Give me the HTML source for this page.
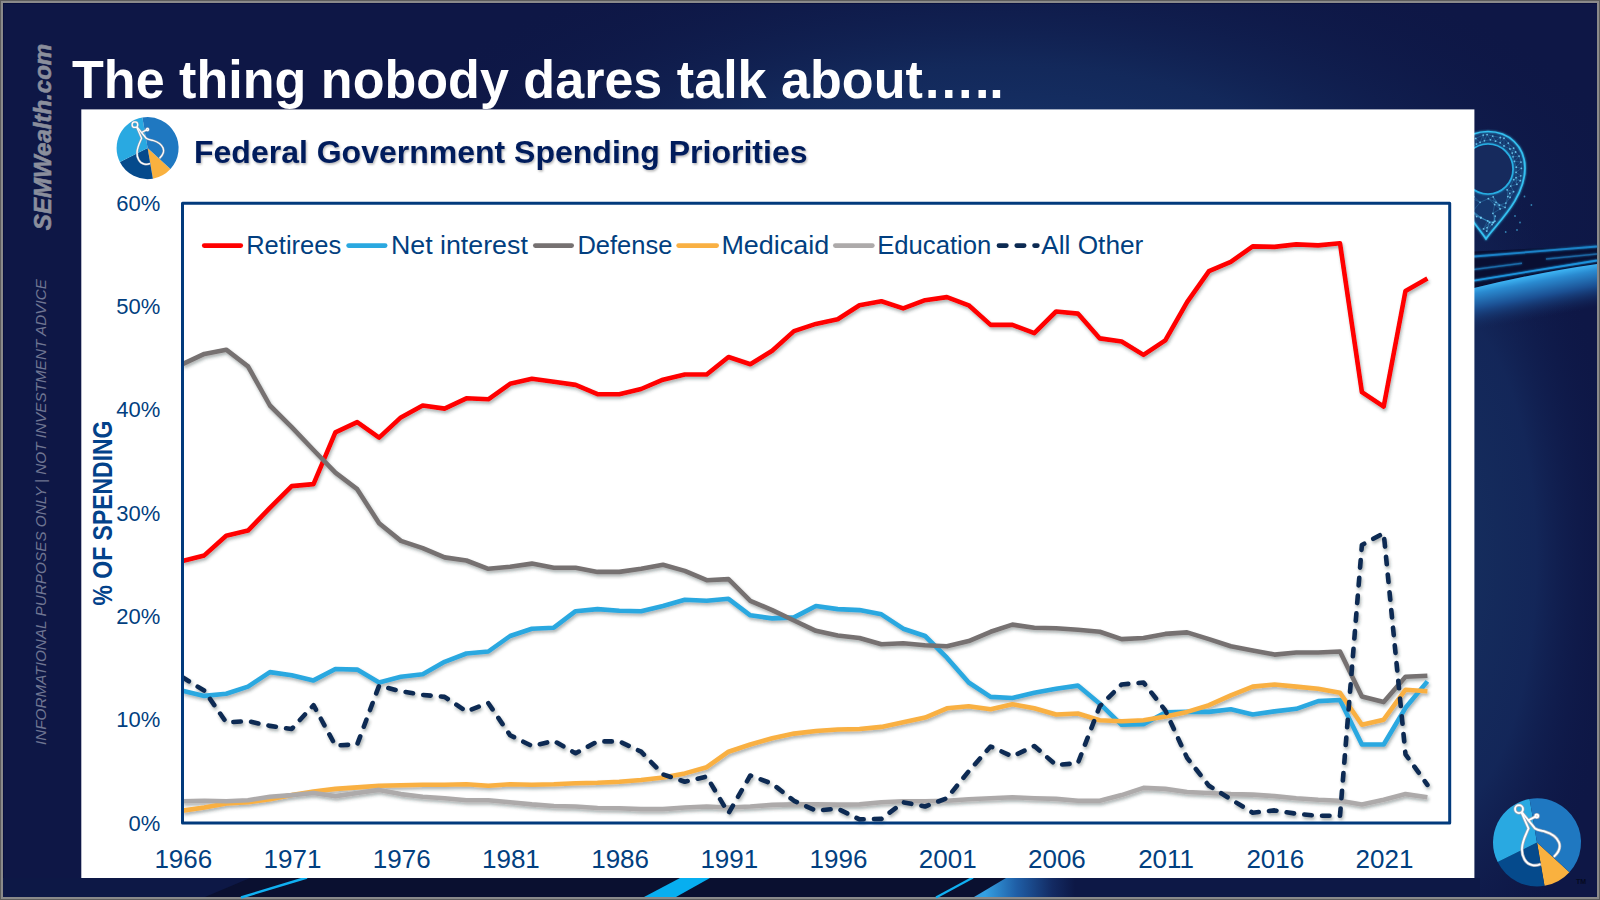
<!DOCTYPE html><html><head><meta charset="utf-8"><title>Federal Government Spending Priorities</title><style>
html,body{margin:0;padding:0;width:1600px;height:900px;overflow:hidden;background:#5d5d5d;}
svg{position:absolute;left:0;top:0;display:block}
</style></head><body>
<svg width="1600" height="900" viewBox="0 0 1600 900" font-family='"Liberation Sans", sans-serif'>
<defs>
<radialGradient id="bgG" gradientUnits="userSpaceOnUse" cx="1250" cy="380" r="460" gradientTransform="translate(1250 380) scale(1 0.92) translate(-1250 -380)">
<stop offset="0" stop-color="#1d4a86"/><stop offset="0.55" stop-color="#163468"/><stop offset="0.85" stop-color="#101d4e"/><stop offset="1" stop-color="#0e1746"/></radialGradient>
<radialGradient id="bgG2" gradientUnits="userSpaceOnUse" cx="1000" cy="200" r="650" gradientTransform="translate(1000 200) scale(1 0.42) translate(-1000 -200)">
<stop offset="0" stop-color="#1a3f78" stop-opacity="0.9"/><stop offset="0.5" stop-color="#163468" stop-opacity="0.6"/><stop offset="1" stop-color="#0e1746" stop-opacity="0"/></radialGradient>
<radialGradient id="rsR" gradientUnits="userSpaceOnUse" cx="1440" cy="560" r="175" gradientTransform="translate(1440 560) scale(1 2.6) translate(-1440 -560)"><stop offset="0" stop-color="#16305f"/><stop offset="0.55" stop-color="#14295c" stop-opacity="0.85"/><stop offset="1" stop-color="#0e1746" stop-opacity="0"/></radialGradient>
<linearGradient id="rsH" gradientUnits="userSpaceOnUse" x1="1474" y1="0" x2="1597" y2="0"><stop offset="0" stop-color="#14295c"/><stop offset="0.6" stop-color="#112050"/><stop offset="1" stop-color="#0e1846"/></linearGradient>
<linearGradient id="rsV" gradientUnits="userSpaceOnUse" x1="0" y1="3" x2="0" y2="897"><stop offset="0" stop-color="#0e1746" stop-opacity="1"/><stop offset="0.26" stop-color="#0e1746" stop-opacity="0"/><stop offset="0.85" stop-color="#0e1746" stop-opacity="0"/><stop offset="1" stop-color="#0e1746" stop-opacity="0.6"/></linearGradient>
<linearGradient id="swG" gradientUnits="userSpaceOnUse" x1="1533" y1="276" x2="1541" y2="318"><stop offset="0" stop-color="#3bb0f0"/><stop offset="0.15" stop-color="#2a8ad0"/><stop offset="0.5" stop-color="#1b4f92"/><stop offset="1" stop-color="#14295c" stop-opacity="0"/></linearGradient>
<linearGradient id="btG" gradientUnits="userSpaceOnUse" x1="985" y1="0" x2="1075" y2="0"><stop offset="0" stop-color="#34a0e2"/><stop offset="0.35" stop-color="#1f5ea6"/><stop offset="0.75" stop-color="#132a62"/><stop offset="1" stop-color="#0d1846"/></linearGradient>
<filter id="sh" x="-5%" y="-5%" width="110%" height="110%"><feDropShadow dx="1.2" dy="2.4" stdDeviation="1.6" flood-color="#203838" flood-opacity="0.38"/></filter>
<filter id="glow" x="-20%" y="-20%" width="140%" height="140%"><feGaussianBlur stdDeviation="0.8" result="b"/><feMerge><feMergeNode in="b"/><feMergeNode in="SourceGraphic"/></feMerge></filter>
<clipPath id="plotclip"><rect x="182.5" y="150" width="1267.5" height="700"/></clipPath>
<filter id="tsh" x="-5%" y="-20%" width="110%" height="140%"><feDropShadow dx="1" dy="1.5" stdDeviation="1" flood-color="#000" flood-opacity="0.3"/></filter>
</defs>
<rect x="1" y="1" width="1598" height="898" fill="#8a8a8a"/>
<rect x="3" y="3" width="1594" height="894" fill="#0e1746"/><rect x="3" y="3" width="1594" height="894" fill="url(#bgG2)"/><rect x="1300" y="3" width="297" height="894" fill="url(#rsR)"/>
<rect x="3" y="3" width="1594" height="1" fill="#050a35" opacity="0.6"/>
<rect x="3" y="3" width="1" height="894" fill="#050a35" opacity="0.6"/>
<rect x="3" y="878" width="1477" height="19" fill="#0a1030"/>
<polygon points="3,878 250,878 205,897 3,897" fill="#0d1846"/>
<line x1="241" y1="897.5" x2="307" y2="877.5" stroke="#10b0f2" stroke-width="2.4"/>
<polygon points="644,897 676,897 710,878 680,878" fill="#07aef0"/>
<line x1="936" y1="897.5" x2="973" y2="877.5" stroke="#10b0f2" stroke-width="2.2"/>
<polygon points="974,897 1100,897 1132,878 1006,878" fill="url(#btG)"/>
<rect x="1099" y="878" width="381" height="19" fill="#0d1846"/>
<path d="M1474,251.5 L1597,245.5 L1597,264 Q1540,272 1474,288 Z" fill="#090f32"/>
<path d="M1474,288 Q1540,272 1597,264 L1597,360 L1474,360 Z" fill="url(#swG)"/>
<g fill="none" filter="url(#glow)">
<path d="M1474,256.5 L1597,246.5" stroke="#1b82c8" stroke-width="1.8"/>
<path d="M1474,269.4 L1522,263.3" stroke="#1a6aa8" stroke-width="1.5"/>
<path d="M1546,259 L1597,254" stroke="#1a64a0" stroke-width="1.5"/>
<path d="M1474,280.6 L1597,260.5" stroke="#1f93dc" stroke-width="1.8"/>
</g>
<path d="M1486.0,239.0 C1478,226 1451,200 1451,168 C1451,146 1467.5,131.5 1488,131.5 C1508.5,131.5 1525,146 1525,168 C1525,200 1494,226 1486.0,239.0 Z" fill="#1e5d9c" fill-opacity="0.42"/><path d="M1467.8,189.3L1463.1,191.9M1467.8,189.3L1464.1,184.4M1467.8,189.3L1473.7,196.6M1467.8,189.3L1459.2,185.0M1464.1,184.4L1462.0,181.1M1464.1,184.4L1459.2,185.0M1464.1,184.4L1457.4,181.7M1462.0,181.1L1460.7,177.1M1462.0,181.1L1457.4,181.7M1462.0,181.1L1459.2,185.0M1460.7,177.1L1457.4,181.7M1460.7,177.1L1458.9,171.2M1460.7,177.1L1454.2,173.9M1458.9,171.2L1455.1,170.4M1458.9,171.2L1460.0,167.5M1458.9,171.2L1454.2,173.9M1460.0,167.5L1455.8,164.8M1460.0,167.5L1459.5,162.4M1460.0,167.5L1455.1,170.4M1459.5,162.4L1455.8,164.8M1459.5,162.4L1457.4,157.3M1459.5,162.4L1463.4,157.0M1463.4,157.0L1457.4,157.3M1463.4,157.0L1464.5,151.0M1463.4,157.0L1459.0,152.4M1464.5,151.0L1467.9,148.4M1464.5,151.0L1461.1,148.1M1464.5,151.0L1459.0,152.4M1467.9,148.4L1471.7,147.1M1467.9,148.4L1465.2,144.0M1467.9,148.4L1461.1,148.1M1471.7,147.1L1476.5,144.1M1471.7,147.1L1470.1,140.9M1471.7,147.1L1465.2,144.0M1476.5,144.1L1480.1,142.3M1476.5,144.1L1475.7,138.4M1476.5,144.1L1470.1,140.9M1480.1,142.3L1484.4,140.8M1480.1,142.3L1475.7,138.4M1480.1,142.3L1483.2,135.1M1484.4,140.8L1483.2,135.1M1484.4,140.8L1490.4,139.8M1484.4,140.8L1487.1,134.6M1490.4,139.8L1492.7,136.1M1490.4,139.8L1495.5,141.2M1490.4,139.8L1487.1,134.6M1495.5,141.2L1500.2,142.8M1495.5,141.2L1492.7,136.1M1495.5,141.2L1500.3,137.5M1500.2,142.8L1504.0,146.0M1500.2,142.8L1500.3,137.5M1500.2,142.8L1504.0,138.2M1504.0,146.0L1508.3,143.1M1504.0,146.0L1509.9,148.9M1504.0,146.0L1504.0,138.2M1509.9,148.9L1513.7,148.1M1509.9,148.9L1512.2,153.1M1509.9,148.9L1508.3,143.1M1509.9,148.9L1515.7,152.0M1512.2,153.1L1515.7,152.0M1512.2,153.1L1513.0,156.8M1512.2,153.1L1513.7,148.1M1513.0,156.8L1514.4,161.4M1513.0,156.8L1515.7,152.0M1513.0,156.8L1519.1,156.1M1514.4,161.4L1516.2,167.2M1514.4,161.4L1521.0,162.1M1514.4,161.4L1519.1,156.1M1516.2,167.2L1516.0,172.3M1516.2,167.2L1521.4,168.3M1516.2,167.2L1521.0,162.1M1516.0,172.3L1516.0,177.7M1516.0,172.3L1520.8,175.8M1516.0,172.3L1521.4,168.3M1516.0,177.7L1513.7,179.6M1516.0,177.7L1520.8,175.8M1516.0,177.7L1520.3,180.7M1513.7,179.6L1516.9,184.3M1513.7,179.6L1520.3,180.7M1513.7,179.6L1510.7,186.1M1510.7,186.1L1507.1,189.8M1510.7,186.1L1513.6,191.7M1510.7,186.1L1516.9,184.3M1507.1,189.8L1509.8,193.4M1507.1,189.8L1513.6,191.7M1507.1,189.8L1507.8,196.6M1463.1,191.9L1464.1,184.4M1463.1,191.9L1459.2,185.0M1463.1,191.9L1464.1,201.0M1459.2,185.0L1457.4,181.7M1454.2,173.9L1455.1,170.4M1454.2,173.9L1457.4,181.7M1455.1,170.4L1455.8,164.8M1455.8,164.8L1458.9,171.2M1457.4,157.3L1459.0,152.4M1457.4,157.3L1455.8,164.8M1459.0,152.4L1461.1,148.1M1461.1,148.1L1465.2,144.0M1465.2,144.0L1470.1,140.9M1465.2,144.0L1464.5,151.0M1470.1,140.9L1475.7,138.4M1475.7,138.4L1483.2,135.1M1483.2,135.1L1487.1,134.6M1487.1,134.6L1492.7,136.1M1492.7,136.1L1500.3,137.5M1500.3,137.5L1504.0,138.2M1504.0,138.2L1508.3,143.1M1508.3,143.1L1513.7,148.1M1513.7,148.1L1515.7,152.0M1515.7,152.0L1519.1,156.1M1519.1,156.1L1521.0,162.1M1521.0,162.1L1521.4,168.3M1521.4,168.3L1520.8,175.8M1520.8,175.8L1520.3,180.7M1520.3,180.7L1516.9,184.3M1516.9,184.3L1516.0,177.7M1513.6,191.7L1509.8,193.4M1513.6,191.7L1510.1,197.4M1509.8,193.4L1507.8,196.6M1509.8,193.4L1510.1,197.4M1493.6,222.5L1493.0,222.4M1493.6,222.5L1494.9,221.2M1493.6,222.5L1492.1,224.5M1493.6,222.5L1489.5,222.4M1505.9,203.1L1505.1,207.4M1505.9,203.1L1507.8,196.6M1505.9,203.1L1499.3,205.2M1505.9,203.1L1510.1,197.4M1487.1,227.7L1486.8,231.2M1487.1,227.7L1483.5,228.9M1487.1,227.7L1489.5,222.4M1487.1,227.7L1492.1,224.5M1472.9,211.1L1472.0,212.0M1472.9,211.1L1476.6,216.5M1472.9,211.1L1481.0,217.4M1472.9,211.1L1480.8,218.0M1510.1,197.4L1507.8,196.6M1494.6,204.6L1496.0,202.3M1494.6,204.6L1499.3,205.2M1494.6,204.6L1500.1,209.0M1494.6,204.6L1493.2,196.8M1499.3,205.2L1500.1,209.0M1499.3,205.2L1496.0,202.3M1499.3,205.2L1505.1,207.4M1481.0,217.4L1480.8,218.0M1481.0,217.4L1476.6,216.5M1481.0,217.4L1487.7,220.8M1481.0,217.4L1489.5,222.4M1496.0,202.3L1493.2,196.8M1496.0,202.3L1500.1,209.0M1472.3,198.5L1473.7,196.6M1472.3,198.5L1464.1,201.0M1472.3,198.5L1480.1,202.3M1472.3,198.5L1467.8,189.3M1495.2,216.1L1492.9,213.3M1495.2,216.1L1494.9,221.2M1495.2,216.1L1493.6,222.5M1495.2,216.1L1493.0,222.4M1480.8,218.0L1476.6,216.5M1480.8,218.0L1487.7,220.8M1480.8,218.0L1489.5,222.4M1483.5,228.9L1486.8,231.2M1483.5,228.9L1489.5,222.4M1483.5,228.9L1487.7,220.8M1473.7,196.6L1480.1,202.3M1473.7,196.6L1464.1,201.0M1472.0,212.0L1476.6,216.5M1472.0,212.0L1481.0,217.4M1472.0,212.0L1480.8,218.0M1480.1,202.3L1488.3,198.7M1480.1,202.3L1472.9,211.1M1500.1,209.0L1505.1,207.4M1486.8,231.2L1492.1,224.5M1486.8,231.2L1489.5,222.4M1487.7,220.8L1489.5,222.4M1487.7,220.8L1493.0,222.4M1487.7,220.8L1492.1,224.5M1487.7,220.8L1493.6,222.5M1464.1,201.0L1467.8,189.3M1494.9,221.2L1493.0,222.4M1494.9,221.2L1492.1,224.5M1493.2,196.8L1488.3,198.7M1493.2,196.8L1499.3,205.2M1492.9,213.3L1494.9,221.2M1492.9,213.3L1500.1,209.0M1492.9,213.3L1494.6,204.6M1505.1,207.4L1496.0,202.3M1488.3,198.7L1496.0,202.3M1488.3,198.7L1494.6,204.6M1493.0,222.4L1492.1,224.5M1493.0,222.4L1489.5,222.4M1489.5,222.4L1492.1,224.5" stroke="#47bff2" stroke-opacity="0.4" stroke-width="0.6" fill="none"/><circle cx="1467.8" cy="189.3" r="0.9" fill="#7fdcff" fill-opacity="0.75"/><circle cx="1464.1" cy="184.4" r="0.9" fill="#7fdcff" fill-opacity="0.75"/><circle cx="1462.0" cy="181.1" r="0.9" fill="#7fdcff" fill-opacity="0.75"/><circle cx="1460.7" cy="177.1" r="0.9" fill="#7fdcff" fill-opacity="0.75"/><circle cx="1458.9" cy="171.2" r="0.9" fill="#7fdcff" fill-opacity="0.75"/><circle cx="1460.0" cy="167.5" r="0.9" fill="#7fdcff" fill-opacity="0.75"/><circle cx="1459.5" cy="162.4" r="0.9" fill="#7fdcff" fill-opacity="0.75"/><circle cx="1463.4" cy="157.0" r="0.9" fill="#7fdcff" fill-opacity="0.75"/><circle cx="1464.5" cy="151.0" r="0.9" fill="#7fdcff" fill-opacity="0.75"/><circle cx="1467.9" cy="148.4" r="0.9" fill="#7fdcff" fill-opacity="0.75"/><circle cx="1471.7" cy="147.1" r="0.9" fill="#7fdcff" fill-opacity="0.75"/><circle cx="1476.5" cy="144.1" r="0.9" fill="#7fdcff" fill-opacity="0.75"/><circle cx="1480.1" cy="142.3" r="0.9" fill="#7fdcff" fill-opacity="0.75"/><circle cx="1484.4" cy="140.8" r="0.9" fill="#7fdcff" fill-opacity="0.75"/><circle cx="1490.4" cy="139.8" r="0.9" fill="#7fdcff" fill-opacity="0.75"/><circle cx="1495.5" cy="141.2" r="0.9" fill="#7fdcff" fill-opacity="0.75"/><circle cx="1500.2" cy="142.8" r="0.9" fill="#7fdcff" fill-opacity="0.75"/><circle cx="1504.0" cy="146.0" r="0.9" fill="#7fdcff" fill-opacity="0.75"/><circle cx="1509.9" cy="148.9" r="0.9" fill="#7fdcff" fill-opacity="0.75"/><circle cx="1512.2" cy="153.1" r="0.9" fill="#7fdcff" fill-opacity="0.75"/><circle cx="1513.0" cy="156.8" r="0.9" fill="#7fdcff" fill-opacity="0.75"/><circle cx="1514.4" cy="161.4" r="0.9" fill="#7fdcff" fill-opacity="0.75"/><circle cx="1516.2" cy="167.2" r="0.9" fill="#7fdcff" fill-opacity="0.75"/><circle cx="1516.0" cy="172.3" r="0.9" fill="#7fdcff" fill-opacity="0.75"/><circle cx="1516.0" cy="177.7" r="0.9" fill="#7fdcff" fill-opacity="0.75"/><circle cx="1513.7" cy="179.6" r="0.9" fill="#7fdcff" fill-opacity="0.75"/><circle cx="1510.7" cy="186.1" r="0.9" fill="#7fdcff" fill-opacity="0.75"/><circle cx="1507.1" cy="189.8" r="0.9" fill="#7fdcff" fill-opacity="0.75"/><circle cx="1463.1" cy="191.9" r="0.9" fill="#7fdcff" fill-opacity="0.75"/><circle cx="1459.2" cy="185.0" r="0.9" fill="#7fdcff" fill-opacity="0.75"/><circle cx="1457.4" cy="181.7" r="0.9" fill="#7fdcff" fill-opacity="0.75"/><circle cx="1454.2" cy="173.9" r="0.9" fill="#7fdcff" fill-opacity="0.75"/><circle cx="1455.1" cy="170.4" r="0.9" fill="#7fdcff" fill-opacity="0.75"/><circle cx="1455.8" cy="164.8" r="0.9" fill="#7fdcff" fill-opacity="0.75"/><circle cx="1457.4" cy="157.3" r="0.9" fill="#7fdcff" fill-opacity="0.75"/><circle cx="1459.0" cy="152.4" r="0.9" fill="#7fdcff" fill-opacity="0.75"/><circle cx="1461.1" cy="148.1" r="0.9" fill="#7fdcff" fill-opacity="0.75"/><circle cx="1465.2" cy="144.0" r="0.9" fill="#7fdcff" fill-opacity="0.75"/><circle cx="1470.1" cy="140.9" r="0.9" fill="#7fdcff" fill-opacity="0.75"/><circle cx="1475.7" cy="138.4" r="0.9" fill="#7fdcff" fill-opacity="0.75"/><circle cx="1483.2" cy="135.1" r="0.9" fill="#7fdcff" fill-opacity="0.75"/><circle cx="1487.1" cy="134.6" r="0.9" fill="#7fdcff" fill-opacity="0.75"/><circle cx="1492.7" cy="136.1" r="0.9" fill="#7fdcff" fill-opacity="0.75"/><circle cx="1500.3" cy="137.5" r="0.9" fill="#7fdcff" fill-opacity="0.75"/><circle cx="1504.0" cy="138.2" r="0.9" fill="#7fdcff" fill-opacity="0.75"/><circle cx="1508.3" cy="143.1" r="0.9" fill="#7fdcff" fill-opacity="0.75"/><circle cx="1513.7" cy="148.1" r="0.9" fill="#7fdcff" fill-opacity="0.75"/><circle cx="1515.7" cy="152.0" r="0.9" fill="#7fdcff" fill-opacity="0.75"/><circle cx="1519.1" cy="156.1" r="0.9" fill="#7fdcff" fill-opacity="0.75"/><circle cx="1521.0" cy="162.1" r="0.9" fill="#7fdcff" fill-opacity="0.75"/><circle cx="1521.4" cy="168.3" r="0.9" fill="#7fdcff" fill-opacity="0.75"/><circle cx="1520.8" cy="175.8" r="0.9" fill="#7fdcff" fill-opacity="0.75"/><circle cx="1520.3" cy="180.7" r="0.9" fill="#7fdcff" fill-opacity="0.75"/><circle cx="1516.9" cy="184.3" r="0.9" fill="#7fdcff" fill-opacity="0.75"/><circle cx="1513.6" cy="191.7" r="0.9" fill="#7fdcff" fill-opacity="0.75"/><circle cx="1509.8" cy="193.4" r="0.9" fill="#7fdcff" fill-opacity="0.75"/><circle cx="1493.6" cy="222.5" r="0.9" fill="#7fdcff" fill-opacity="0.75"/><circle cx="1505.9" cy="203.1" r="0.9" fill="#7fdcff" fill-opacity="0.75"/><circle cx="1487.1" cy="227.7" r="0.9" fill="#7fdcff" fill-opacity="0.75"/><circle cx="1472.9" cy="211.1" r="0.9" fill="#7fdcff" fill-opacity="0.75"/><circle cx="1510.1" cy="197.4" r="0.9" fill="#7fdcff" fill-opacity="0.75"/><circle cx="1494.6" cy="204.6" r="0.9" fill="#7fdcff" fill-opacity="0.75"/><circle cx="1499.3" cy="205.2" r="0.9" fill="#7fdcff" fill-opacity="0.75"/><circle cx="1481.0" cy="217.4" r="0.9" fill="#7fdcff" fill-opacity="0.75"/><circle cx="1496.0" cy="202.3" r="0.9" fill="#7fdcff" fill-opacity="0.75"/><circle cx="1472.3" cy="198.5" r="0.9" fill="#7fdcff" fill-opacity="0.75"/><circle cx="1495.2" cy="216.1" r="0.9" fill="#7fdcff" fill-opacity="0.75"/><circle cx="1480.8" cy="218.0" r="0.9" fill="#7fdcff" fill-opacity="0.75"/><circle cx="1483.5" cy="228.9" r="0.9" fill="#7fdcff" fill-opacity="0.75"/><circle cx="1473.7" cy="196.6" r="0.9" fill="#7fdcff" fill-opacity="0.75"/><circle cx="1472.0" cy="212.0" r="0.9" fill="#7fdcff" fill-opacity="0.75"/><circle cx="1480.1" cy="202.3" r="0.9" fill="#7fdcff" fill-opacity="0.75"/><circle cx="1476.6" cy="216.5" r="0.9" fill="#7fdcff" fill-opacity="0.75"/><circle cx="1500.1" cy="209.0" r="0.9" fill="#7fdcff" fill-opacity="0.75"/><circle cx="1486.8" cy="231.2" r="0.9" fill="#7fdcff" fill-opacity="0.75"/><circle cx="1487.7" cy="220.8" r="0.9" fill="#7fdcff" fill-opacity="0.75"/><circle cx="1464.1" cy="201.0" r="0.9" fill="#7fdcff" fill-opacity="0.75"/><circle cx="1507.8" cy="196.6" r="0.9" fill="#7fdcff" fill-opacity="0.75"/><circle cx="1494.9" cy="221.2" r="0.9" fill="#7fdcff" fill-opacity="0.75"/><circle cx="1493.2" cy="196.8" r="0.9" fill="#7fdcff" fill-opacity="0.75"/><circle cx="1492.9" cy="213.3" r="0.9" fill="#7fdcff" fill-opacity="0.75"/><circle cx="1505.1" cy="207.4" r="0.9" fill="#7fdcff" fill-opacity="0.75"/><circle cx="1488.3" cy="198.7" r="0.9" fill="#7fdcff" fill-opacity="0.75"/><circle cx="1493.0" cy="222.4" r="0.9" fill="#7fdcff" fill-opacity="0.75"/><circle cx="1489.5" cy="222.4" r="0.9" fill="#7fdcff" fill-opacity="0.75"/><circle cx="1492.1" cy="224.5" r="0.9" fill="#7fdcff" fill-opacity="0.75"/><path d="M1486.0,239.0 C1478,226 1451,200 1451,168 C1451,146 1467.5,131.5 1488,131.5 C1508.5,131.5 1525,146 1525,168 C1525,200 1494,226 1486.0,239.0 Z" fill="none" stroke="#36cafa" stroke-width="1.7" stroke-opacity="0.9" filter="url(#glow)"/><circle cx="1488.0" cy="169.0" r="25.0" fill="#132b5d" stroke="#2cbdf3" stroke-width="1.7" stroke-opacity="0.85" filter="url(#glow)"/><circle cx="1524.5" cy="196.5" r="0.9" fill="#4cc6f5" fill-opacity="0.6"/><circle cx="1531.4" cy="205" r="0.9" fill="#4cc6f5" fill-opacity="0.6"/><circle cx="1515" cy="216" r="0.9" fill="#4cc6f5" fill-opacity="0.6"/><circle cx="1520" cy="222.5" r="0.9" fill="#4cc6f5" fill-opacity="0.6"/><circle cx="1517" cy="230" r="0.9" fill="#4cc6f5" fill-opacity="0.6"/><circle cx="1505.7" cy="232" r="0.9" fill="#4cc6f5" fill-opacity="0.6"/>
<text transform="translate(72,97.8) scale(0.972,1)" font-size="53.6" font-weight="bold" fill="#ffffff">The thing nobody dares talk about…..</text>
<text transform="translate(50.5,137) rotate(-90)" text-anchor="middle" font-size="24" font-weight="bold" font-style="italic" fill="#8a8e9c" stroke="#8a8e9c" stroke-width="0.6">SEMWealth.com</text>
<text transform="translate(46,512) rotate(-90)" text-anchor="middle" font-size="15.3" font-style="italic" fill="#6e7592">INFORMATIONAL PURPOSES ONLY | NOT INVESTMENT ADVICE</text>
<rect x="81.3" y="109.4" width="1393.1" height="768.6" fill="#ffffff"/>
<path d="M147.60,148.10 L170.46,169.04 A31,31 0 0 1 152.88,178.65 Z" fill="#f9b13f"/><path d="M147.60,148.10 L152.88,178.65 A31,31 0 0 1 119.88,161.98 Z" fill="#054a8c"/><path d="M147.60,148.10 L119.88,161.98 A31,31 0 0 1 142.38,117.54 Z" fill="#29a9e1"/><path d="M147.60,148.10 L142.38,117.54 A31,31 0 0 1 170.46,169.04 Z" fill="#1f78c1"/><g transform="translate(147.60,148.10) scale(0.7045)" fill="none" stroke-linecap="round" stroke-linejoin="round"><g stroke="#9aa4b4" stroke-width="3.2"><circle cx="-18" cy="-33.3" r="4"/><path d="M-15.2,-29.2 L-8.5,-14 C-10.5,-9 -14.6,-2 -15,6 C-15.4,14 -11.5,21.5 -4.5,22.8 C-1.5,23.3 1,22.8 2.7,22.1"/><path d="M-14.6,-29.5 L-2,-14 C1,-12 4,-11.8 8,-10.8 C14,-9 20,-5 22,0 C23.5,4 22.5,9 17.5,13.8"/><path d="M-8.5,-22.2 L-1.5,-25.8"/><circle cx="-0.2" cy="-26.4" r="1.5"/></g><g stroke="#ffffff" stroke-width="1.8"><circle cx="-18" cy="-33.3" r="4"/><path d="M-15.2,-29.2 L-8.5,-14 C-10.5,-9 -14.6,-2 -15,6 C-15.4,14 -11.5,21.5 -4.5,22.8 C-1.5,23.3 1,22.8 2.7,22.1"/><path d="M-14.6,-29.5 L-2,-14 C1,-12 4,-11.8 8,-10.8 C14,-9 20,-5 22,0 C23.5,4 22.5,9 17.5,13.8"/><path d="M-8.5,-22.2 L-1.5,-25.8"/><circle cx="-0.2" cy="-26.4" r="1.5"/></g></g>
<text x="194" y="163" font-size="32" font-weight="bold" fill="#021d5c" filter="url(#tsh)">Federal Government Spending Priorities</text>
<text transform="translate(111.5,513) rotate(-90) scale(0.85,1)" text-anchor="middle" font-size="27" font-weight="bold" fill="#03428a">% OF SPENDING</text>
<text x="160.3" y="830.6" text-anchor="end" font-size="22" fill="#023f80">0%</text>
<text x="160.3" y="727.3" text-anchor="end" font-size="22" fill="#023f80">10%</text>
<text x="160.3" y="623.9" text-anchor="end" font-size="22" fill="#023f80">20%</text>
<text x="160.3" y="520.6" text-anchor="end" font-size="22" fill="#023f80">30%</text>
<text x="160.3" y="417.3" text-anchor="end" font-size="22" fill="#023f80">40%</text>
<text x="160.3" y="314.0" text-anchor="end" font-size="22" fill="#023f80">50%</text>
<text x="160.3" y="210.6" text-anchor="end" font-size="22" fill="#023f80">60%</text>
<text x="183.3" y="868.4" text-anchor="middle" font-size="26" fill="#023f80">1966</text>
<text x="292.5" y="868.4" text-anchor="middle" font-size="26" fill="#023f80">1971</text>
<text x="401.7" y="868.4" text-anchor="middle" font-size="26" fill="#023f80">1976</text>
<text x="510.9" y="868.4" text-anchor="middle" font-size="26" fill="#023f80">1981</text>
<text x="620.1" y="868.4" text-anchor="middle" font-size="26" fill="#023f80">1986</text>
<text x="729.3" y="868.4" text-anchor="middle" font-size="26" fill="#023f80">1991</text>
<text x="838.5" y="868.4" text-anchor="middle" font-size="26" fill="#023f80">1996</text>
<text x="947.7" y="868.4" text-anchor="middle" font-size="26" fill="#023f80">2001</text>
<text x="1056.9" y="868.4" text-anchor="middle" font-size="26" fill="#023f80">2006</text>
<text x="1166.1" y="868.4" text-anchor="middle" font-size="26" fill="#023f80">2011</text>
<text x="1275.3" y="868.4" text-anchor="middle" font-size="26" fill="#023f80">2016</text>
<text x="1384.5" y="868.4" text-anchor="middle" font-size="26" fill="#023f80">2021</text>
<g clip-path="url(#plotclip)"><g fill="none" stroke-width="4.6" stroke-linejoin="round" stroke-linecap="butt" filter="url(#sh)">
<polyline points="182.5,561.1 204.3,555.4 226.2,535.7 248.0,530.6 269.9,507.8 291.7,486.1 313.5,484.1 335.4,432.4 357.2,422.1 379.1,437.6 400.9,417.4 422.7,405.5 444.6,408.6 466.4,398.3 488.3,399.3 510.1,383.8 531.9,378.7 553.8,381.8 575.6,384.9 597.5,394.2 619.3,394.2 641.1,389.0 663.0,379.7 684.8,374.5 706.7,374.5 728.5,357.0 750.3,364.2 772.2,350.8 794.0,331.1 815.9,323.9 837.7,319.3 859.5,305.3 881.4,301.2 903.2,308.4 925.1,300.2 946.9,297.1 968.7,305.3 990.6,324.9 1012.4,324.9 1034.3,333.2 1056.1,311.5 1077.9,313.6 1099.8,338.4 1121.6,341.5 1143.5,354.9 1165.3,340.4 1187.1,302.2 1209.0,271.2 1230.8,261.9 1252.7,246.4 1274.5,246.9 1296.3,244.4 1318.2,245.4 1340.0,243.3 1361.9,392.1 1383.7,406.6 1405.5,290.9 1427.4,278.5" stroke="#ff0000"/>
<polyline points="182.5,690.7 204.3,695.9 226.2,693.8 248.0,686.6 269.9,672.1 291.7,675.2 313.5,680.4 335.4,669.0 357.2,669.6 379.1,682.5 400.9,676.8 422.7,674.2 444.6,661.8 466.4,653.5 488.3,651.5 510.1,636.0 531.9,628.7 553.8,627.7 575.6,611.2 597.5,609.1 619.3,610.7 641.1,611.2 663.0,606.0 684.8,599.8 706.7,600.8 728.5,598.8 750.3,615.3 772.2,618.4 794.0,617.4 815.9,606.0 837.7,609.1 859.5,610.1 881.4,614.3 903.2,628.7 925.1,636.0 946.9,657.7 968.7,682.5 990.6,696.9 1012.4,698.0 1034.3,692.8 1056.1,688.7 1077.9,685.6 1099.8,703.7 1121.6,724.8 1143.5,724.3 1165.3,712.4 1187.1,711.9 1209.0,711.9 1230.8,709.3 1252.7,714.5 1274.5,711.4 1296.3,708.8 1318.2,701.1 1340.0,700.0 1361.9,744.5 1383.7,744.5 1405.5,707.8 1427.4,681.4" stroke="#2aa8e0"/>
<polyline points="182.5,364.2 204.3,353.9 226.2,349.7 248.0,366.3 269.9,405.5 291.7,427.2 313.5,450.0 335.4,472.7 357.2,489.2 379.1,523.3 400.9,540.9 422.7,548.1 444.6,557.4 466.4,560.5 488.3,568.8 510.1,566.7 531.9,563.6 553.8,567.8 575.6,567.8 597.5,571.9 619.3,571.9 641.1,568.8 663.0,564.7 684.8,570.9 706.7,580.2 728.5,579.1 750.3,600.8 772.2,610.1 794.0,620.5 815.9,630.8 837.7,635.5 859.5,638.0 881.4,644.2 903.2,643.2 925.1,645.3 946.9,646.3 968.7,641.1 990.6,631.8 1012.4,624.6 1034.3,627.7 1056.1,628.2 1077.9,629.8 1099.8,631.8 1121.6,639.1 1143.5,638.0 1165.3,633.9 1187.1,632.4 1209.0,639.1 1230.8,646.3 1252.7,650.4 1274.5,654.6 1296.3,652.5 1318.2,652.5 1340.0,651.5 1361.9,696.4 1383.7,702.1 1405.5,676.8 1427.4,675.8" stroke="#767171"/>
<polyline points="182.5,810.6 204.3,807.5 226.2,803.4 248.0,802.3 269.9,799.2 291.7,795.1 313.5,791.5 335.4,788.9 357.2,787.4 379.1,785.8 400.9,785.3 422.7,784.8 444.6,784.8 466.4,784.3 488.3,785.8 510.1,784.3 531.9,784.8 553.8,784.3 575.6,783.2 597.5,782.7 619.3,781.7 641.1,780.0 663.0,777.5 684.8,773.4 706.7,767.2 728.5,751.7 750.3,744.5 772.2,738.3 794.0,733.6 815.9,731.0 837.7,729.5 859.5,729.0 881.4,726.9 903.2,722.3 925.1,717.6 946.9,708.3 968.7,706.2 990.6,709.3 1012.4,704.2 1034.3,708.3 1056.1,714.5 1077.9,713.5 1099.8,720.2 1121.6,721.2 1143.5,720.2 1165.3,716.6 1187.1,711.9 1209.0,705.2 1230.8,695.4 1252.7,686.6 1274.5,684.5 1296.3,686.6 1318.2,688.7 1340.0,692.8 1361.9,724.8 1383.7,719.7 1405.5,689.7 1427.4,691.3" stroke="#f9b043"/>
<polyline points="182.5,801.3 204.3,800.8 226.2,801.3 248.0,800.3 269.9,796.7 291.7,795.1 313.5,793.0 335.4,796.1 357.2,793.0 379.1,789.9 400.9,794.1 422.7,796.7 444.6,798.2 466.4,800.3 488.3,800.3 510.1,802.3 531.9,804.4 553.8,806.0 575.6,806.5 597.5,808.0 619.3,808.3 641.1,809.1 663.0,809.1 684.8,807.5 706.7,806.5 728.5,807.5 750.3,806.5 772.2,804.9 794.0,804.4 815.9,804.4 837.7,804.6 859.5,804.4 881.4,802.3 903.2,801.3 925.1,801.3 946.9,800.8 968.7,799.2 990.6,798.2 1012.4,797.2 1034.3,798.2 1056.1,798.9 1077.9,800.8 1099.8,800.8 1121.6,795.1 1143.5,787.9 1165.3,788.9 1187.1,792.0 1209.0,793.0 1230.8,794.1 1252.7,794.6 1274.5,796.1 1296.3,798.2 1318.2,799.8 1340.0,800.8 1361.9,804.4 1383.7,799.8 1405.5,794.1 1427.4,797.2" stroke="#adaaaa"/>
<polyline points="182.5,677.3 204.3,690.7 226.2,722.3 248.0,721.2 269.9,725.9 291.7,729.0 313.5,705.2 335.4,745.5 357.2,744.5 379.1,685.6 400.9,691.3 422.7,694.9 444.6,696.9 466.4,711.4 488.3,703.1 510.1,735.2 531.9,746.0 553.8,740.9 575.6,753.3 597.5,741.4 619.3,741.4 641.1,751.7 663.0,774.4 684.8,781.7 706.7,776.5 728.5,813.3 750.3,775.5 772.2,783.7 794.0,800.8 815.9,810.6 837.7,808.7 859.5,819.4 881.4,818.9 903.2,802.3 925.1,806.5 946.9,798.2 968.7,771.3 990.6,746.5 1012.4,756.4 1034.3,746.0 1056.1,765.1 1077.9,763.1 1099.8,706.2 1121.6,684.5 1143.5,682.5 1165.3,710.4 1187.1,757.9 1209.0,785.8 1230.8,799.2 1252.7,812.7 1274.5,810.4 1296.3,813.7 1318.2,815.8 1340.0,815.8 1361.9,545.0 1383.7,533.2 1405.5,754.3 1427.4,784.8" stroke="#0c2a52" stroke-dasharray="7.5 10.3" stroke-linecap="round"/>
</g></g>
<rect x="182.5" y="203.3" width="1267.2" height="619.7" fill="none" stroke="#023a7c" stroke-width="3" stroke-linejoin="round"/>
<line x1="204.20000000000002" y1="245.6" x2="240.79999999999998" y2="245.6" stroke="#ff0000" stroke-width="4.6" stroke-linecap="round"/>
<text transform="translate(246.20000000000002,253.75) scale(1.0,1)" font-size="25.5" fill="#023f80">Retirees</text>
<line x1="348.6" y1="245.6" x2="385.2" y2="245.6" stroke="#2aa8e0" stroke-width="4.6" stroke-linecap="round"/>
<text transform="translate(390.9,253.75) scale(1.051,1)" font-size="25.5" fill="#023f80">Net interest</text>
<line x1="535.3" y1="245.6" x2="571.7" y2="245.6" stroke="#767171" stroke-width="4.6" stroke-linecap="round"/>
<text transform="translate(577.4,253.75) scale(1.0,1)" font-size="25.5" fill="#023f80">Defense</text>
<line x1="678.5999999999999" y1="245.6" x2="716.7" y2="245.6" stroke="#f9b043" stroke-width="4.6" stroke-linecap="round"/>
<text transform="translate(721.4,253.75) scale(1.057,1)" font-size="25.5" fill="#023f80">Medicaid</text>
<line x1="835.3" y1="245.6" x2="872.4000000000001" y2="245.6" stroke="#adaaaa" stroke-width="4.6" stroke-linecap="round"/>
<text transform="translate(877.1999999999999,253.75) scale(1.007,1)" font-size="25.5" fill="#023f80">Education</text>
<line x1="998.9" y1="245.6" x2="1037.4" y2="245.6" stroke="#0c2a52" stroke-width="4.6" stroke-linecap="round" stroke-dasharray="7.5 10.3"/>
<text transform="translate(1041.2,253.75) scale(1.03,1)" font-size="25.5" fill="#023f80">All Other</text>
<path d="M1537.00,842.40 L1569.44,872.13 A44,44 0 0 1 1544.49,885.76 Z" fill="#f9b13f"/><path d="M1537.00,842.40 L1544.49,885.76 A44,44 0 0 1 1497.66,862.10 Z" fill="#054a8c"/><path d="M1537.00,842.40 L1497.66,862.10 A44,44 0 0 1 1529.59,799.03 Z" fill="#29a9e1"/><path d="M1537.00,842.40 L1529.59,799.03 A44,44 0 0 1 1569.44,872.13 Z" fill="#1f78c1"/><g transform="translate(1537.00,842.40) scale(1.0000)" fill="none" stroke-linecap="round" stroke-linejoin="round"><g stroke="#9aa4b4" stroke-width="3.2"><circle cx="-18" cy="-33.3" r="4"/><path d="M-15.2,-29.2 L-8.5,-14 C-10.5,-9 -14.6,-2 -15,6 C-15.4,14 -11.5,21.5 -4.5,22.8 C-1.5,23.3 1,22.8 2.7,22.1"/><path d="M-14.6,-29.5 L-2,-14 C1,-12 4,-11.8 8,-10.8 C14,-9 20,-5 22,0 C23.5,4 22.5,9 17.5,13.8"/><path d="M-8.5,-22.2 L-1.5,-25.8"/><circle cx="-0.2" cy="-26.4" r="1.5"/></g><g stroke="#ffffff" stroke-width="1.8"><circle cx="-18" cy="-33.3" r="4"/><path d="M-15.2,-29.2 L-8.5,-14 C-10.5,-9 -14.6,-2 -15,6 C-15.4,14 -11.5,21.5 -4.5,22.8 C-1.5,23.3 1,22.8 2.7,22.1"/><path d="M-14.6,-29.5 L-2,-14 C1,-12 4,-11.8 8,-10.8 C14,-9 20,-5 22,0 C23.5,4 22.5,9 17.5,13.8"/><path d="M-8.5,-22.2 L-1.5,-25.8"/><circle cx="-0.2" cy="-26.4" r="1.5"/></g></g>
<text x="1576" y="884" font-size="7" font-weight="bold" fill="#050a20">TM</text>
</svg></body></html>
